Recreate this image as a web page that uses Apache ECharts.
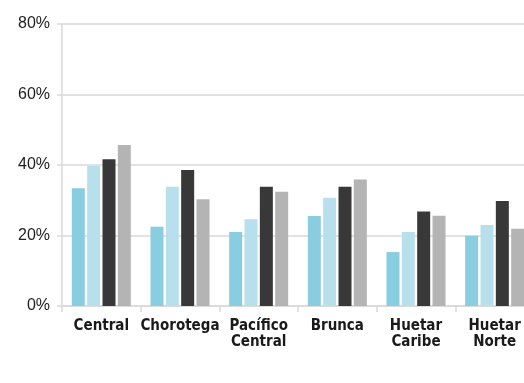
<!DOCTYPE html>
<html>
<head>
<meta charset="utf-8">
<script src="https://cdn.jsdelivr.net/npm/echarts@6/dist/echarts.min.js"></script>
<style>
  html, body { margin: 0; padding: 0; background: #fff; }
  #chart { width: 524px; height: 383px; }
</style>
</head>
<body>
<div id="chart"></div>
<script>
// Regions (x-axis categories)
const regions = ['Central', 'Chorotega', 'Pacífico\nCentral', 'Brunca', 'Huetar\nCaribe', 'Huetar\nNorte']

// Four series, values in percent
const serie1 = [33.4, 22.5, 21.0, 25.5, 15.3, 19.9]
const serie2 = [39.7, 33.8, 24.6, 30.7, 21.0, 23.0]
const serie3 = [41.6, 38.6, 33.8, 33.8, 26.8, 29.8]
const serie4 = [45.7, 30.3, 32.4, 35.9, 25.6, 21.9]

const seriesColors = ['#89cde0', '#b7dfec', '#383838', '#b4b4b4']

// y-axis ticks
const yMin = 0
const yMax = 80
const yStep = 20

const chart = echarts.init(document.getElementById('chart'))

const gridColor = '#d9d9d9'

const makeBar = (data, i) => ({
  type: 'bar',
  data: data,
  barWidth: 13,
  barGap: '18%',
  itemStyle: { color: seriesColors[i] }
})

chart.setOption({
  animation: false,
  grid: {
    left: 62,
    right: -10,
    top: 24,
    bottom: 77,
    outerBoundsMode: 'none'
  },
  xAxis: {
    type: 'category',
    data: regions,
    axisLine: { lineStyle: { color: gridColor, width: 1.5 } },
    axisTick: { show: true, length: 6, lineStyle: { color: gridColor, width: 1.5 } },
    axisLabel: {
      color: '#1a1a1a',
      fontFamily: '"DejaVu Sans Condensed", sans-serif',
      fontWeight: 'bold',
      fontSize: 15,
      lineHeight: 16,
      margin: 12,
      interval: 0
    }
  },
  yAxis: {
    type: 'value',
    min: yMin,
    max: yMax,
    interval: yStep,
    axisLine: { show: true, lineStyle: { color: gridColor, width: 1.5 } },
    axisTick: { show: true, length: 5, lineStyle: { color: gridColor, width: 1.5 } },
    axisLabel: {
      color: '#222',
      fontFamily: '"Liberation Sans", sans-serif',
      fontSize: 16,
      margin: 12,
      formatter: '{value}%'
    },
    splitLine: { lineStyle: { color: gridColor, width: 1.5 } }
  },
  series: [serie1, serie2, serie3, serie4].map(makeBar)
})
</script>
</body>
</html>
